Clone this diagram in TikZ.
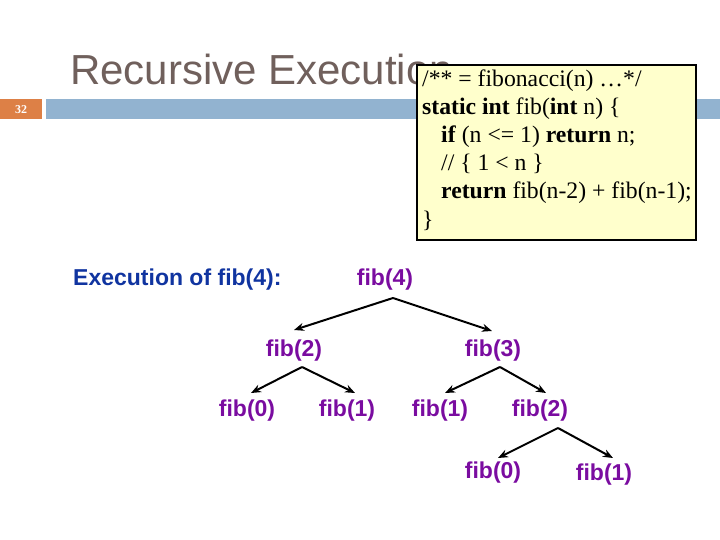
\documentclass[tikz,border=0pt]{standalone}
\usepackage{fontspec}
\setmainfont{Liberation Serif}
\newfontfamily\arialf{Liberation Sans}
\usetikzlibrary{arrows.meta}
\definecolor{titlegray}{RGB}{112,96,92}
\definecolor{barorange}{RGB}{221,128,70}
\definecolor{barblue}{RGB}{146,179,208}
\definecolor{codebg}{RGB}{255,255,204}
\definecolor{labelblue}{RGB}{16,52,160}
\definecolor{fibpurple}{RGB}{122,12,160}
\tikzset{
  fibnode/.style={anchor=base, inner sep=0pt, text=fibpurple, font=\arialf\bfseries\fontsize{23}{26}\selectfont},
  codeline/.style={anchor=base west, inner sep=0pt, font=\fontsize{23.7}{28}\selectfont},
  arr/.style={-{Stealth[length=10pt,width=8pt]}, line width=2pt, black}
}
\begin{document}
\begin{tikzpicture}[x=1pt,y=-1pt]
\useasboundingbox (0,0) rectangle (720,540);
% header
\node[anchor=base west, inner sep=0pt, text=titlegray, font=\arialf\fontsize{42}{48}\selectfont] (title) at (70,85) {Recursive Execution};
\fill[barorange] (0,99) rectangle (42,119);
\node[text=white, font=\bfseries\fontsize{12}{14}\selectfont, inner sep=0pt] (pg) at (21,109.5) {32};
\fill[barblue] (46,99) rectangle (720,119);
% code box
\draw[fill=codebg, line width=2pt] (417,65) rectangle (696,240);
\node[codeline] (c1) at (422,87) {/** = fibonacci(n) …*/};
\node[codeline] (c2) at (422,115) {\textbf{static int} fib(\textbf{int} n) \{};
\node[codeline] (c3) at (441,143) {\textbf{if} (n <= 1) \textbf{return} n;};
\node[codeline] (c4) at (441,171) {// \{ 1 < n \}};
\node[codeline] (c5) at (441,199) {\textbf{return} fib(n-2) + fib(n-1);};
\node[codeline] (c6) at (422,227) {\}};
% label
\node[anchor=base west, inner sep=0pt, text=labelblue, font=\arialf\bfseries\fontsize{23}{26}\selectfont] (lab) at (73,285) {Execution of fib(4):};
% tree nodes
\node[fibnode] (f4) at (385,285) {fib(4)};
\node[fibnode] (f2) at (294,356) {fib(2)};
\node[fibnode] (f3) at (493,356) {fib(3)};
\node[fibnode] (f20) at (247,416) {fib(0)};
\node[fibnode] (f21) at (347,416) {fib(1)};
\node[fibnode] (f31) at (440,416) {fib(1)};
\node[fibnode] (f32) at (540,416) {fib(2)};
\node[fibnode] (f320) at (493,478) {fib(0)};
\node[fibnode] (f321) at (604,480) {fib(1)};
% connector points
\coordinate (p4) at (393,298);
\coordinate (t2) at (294,330);
\coordinate (t3) at (492,331);
\coordinate (p2) at (302,367);
\coordinate (t20) at (251,393);
\coordinate (t21) at (355,393);
\coordinate (p3) at (500,367);
\coordinate (t31) at (445,393);
\coordinate (t32) at (546,393);
\coordinate (p32) at (558,428);
\coordinate (t320) at (498,458);
\coordinate (t321) at (613,458);
\draw[arr] (p4) -- (t2);
\draw[arr] (p4) -- (t3);
\draw[arr] (p2) -- (t20);
\draw[arr] (p2) -- (t21);
\draw[arr] (p3) -- (t31);
\draw[arr] (p3) -- (t32);
\draw[arr] (p32) -- (t320);
\draw[arr] (p32) -- (t321);
\end{tikzpicture}
\end{document}
